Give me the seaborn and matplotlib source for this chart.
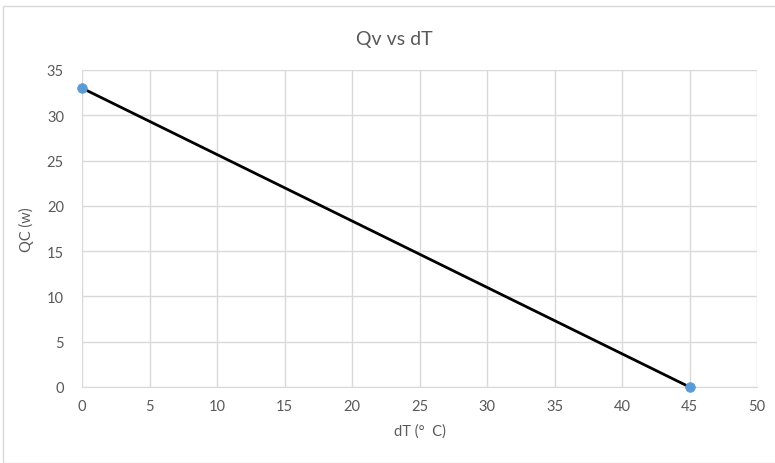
import numpy as np
import pandas as pd
import seaborn as sns
import matplotlib.pyplot as plt
from matplotlib.patches import Rectangle

# data
dT = [0, 45]
Qc = [33, 0]
xticks = [0, 5, 10, 15, 20, 25, 30, 35, 40, 45, 50]
yticks = [0, 5, 10, 15, 20, 25, 30, 35]

df = pd.DataFrame({'dT': dT, 'Qc': Qc})

sns.set_style('white')
plt.rcParams['font.family'] = ['Lato', 'DejaVu Sans']

txt = '#595959'
grid = '#D9D9D9'

fig = plt.figure(figsize=(7.75, 4.64), dpi=100)
ax = fig.add_axes([82 / 775, 1 - 388 / 464, 675 / 775, 317 / 464])

sns.lineplot(data=df, x='dT', y='Qc', color='black', linewidth=2, ax=ax, zorder=3)
sns.scatterplot(data=df, x='dT', y='Qc', color='#5B9BD5', s=48, edgecolor='#5B9BD5',
                ax=ax, zorder=4, clip_on=False)

ax.set_xlim(0, 50)
ax.set_ylim(0, 35)
ax.set_xticks(xticks)
ax.set_yticks(yticks)
ax.grid(True, color=grid, linewidth=1)
ax.set_axisbelow(True)
for s in ['top', 'right', 'left']:
    ax.spines[s].set_visible(False)
ax.spines['bottom'].set_color(grid)
ax.tick_params(length=0, labelsize=10.5, labelcolor=txt, pad=9)
ax.tick_params(axis='y', pad=13)

ax.set_xlabel('dT (°  C)', fontsize=10.5, color=txt, labelpad=7)
ax.set_ylabel('QC (w)', fontsize=10.5, color=txt, labelpad=9)
fig.text(394 / 775, 1 - 40 / 464, 'Qv vs dT', ha='center', va='center', fontsize=14, color=txt)

fig.patches.append(Rectangle((3 / 775, 0), 1, 1 - 7 / 464, transform=fig.transFigure,
                             fill=False, edgecolor='#D9D9D9', linewidth=1))

fig.savefig('out.png', dpi=100)
